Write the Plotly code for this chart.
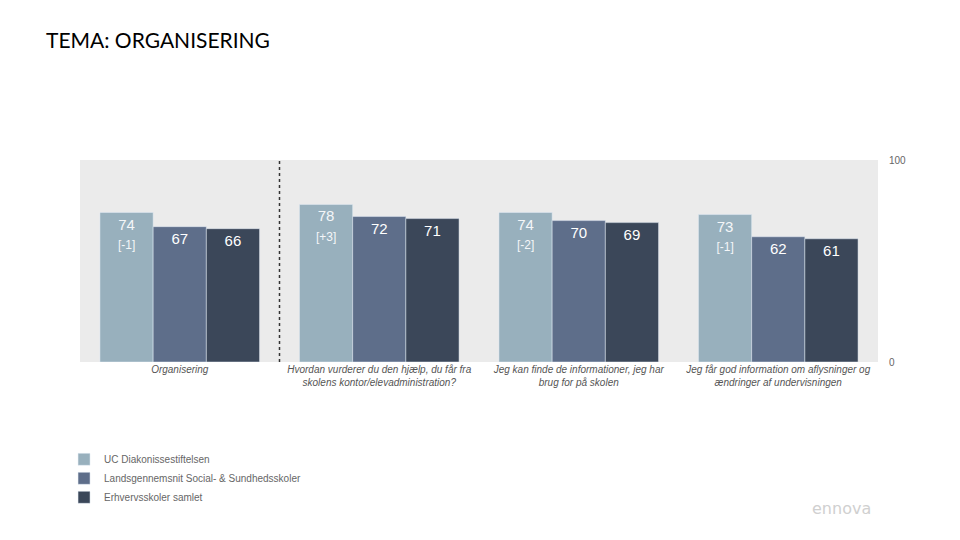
import plotly.graph_objects as go

categories = [
    "<i>Organisering</i>",
    "<i>Hvordan vurderer du den hjælp, du får fra<br>skolens kontor/elevadministration?</i>",
    "<i>Jeg kan finde de informationer, jeg har<br>brug for på skolen</i>",
    "<i>Jeg får god information om aflysninger og<br>ændringer af undervisningen</i>",
]
uc_values = [74, 78, 74, 73]
uc_change = ["[-1]", "[+3]", "[-2]", "[-1]"]
lands_values = [67, 72, 70, 62]
erhverv_values = [66, 71, 69, 61]

series_names = [
    "UC Diakonissestiftelsen",
    "Landsgennemsnit Social- & Sundhedsskoler",
    "Erhvervsskoler samlet",
]
colors = ["#98B0BD", "#5E6E8A", "#3B4759"]

uc_text = [f"{v}<br><span style='font-size:12px'>{c}</span>" for v, c in zip(uc_values, uc_change)]

fig = go.Figure()
fig.add_trace(go.Bar(x=categories, y=uc_values, name=series_names[0], marker_color=colors[0],
                     text=uc_text, textposition="inside", insidetextanchor="end",
                     textfont=dict(color="#F4F6F8", size=15), textangle=0))
fig.add_trace(go.Bar(x=categories, y=lands_values, name=series_names[1], marker_color=colors[1],
                     text=[str(v) for v in lands_values], textposition="inside", insidetextanchor="end",
                     textfont=dict(color="white", size=15), textangle=0))
fig.add_trace(go.Bar(x=categories, y=erhverv_values, name=series_names[2], marker_color=colors[2],
                     text=[str(v) for v in erhverv_values], textposition="inside", insidetextanchor="end",
                     textfont=dict(color="white", size=15), textangle=0))

fig.add_shape(type="line", xref="x", yref="paper", x0=0.5, x1=0.5, y0=0, y1=1,
              line=dict(color="#333333", width=1.5, dash="dot"))

fig.add_annotation(text="TEMA: ORGANISERING", xref="paper", yref="paper", x=-0.045, y=1.595,
                   xanchor="left", yanchor="middle", showarrow=False,
                   font=dict(family="Lato", size=21, color="black"))
fig.add_annotation(text="ennova", xref="paper", yref="paper", x=0.915, y=-0.725,
                   xanchor="left", yanchor="middle", showarrow=False,
                   font=dict(family="DejaVu Sans", size=16, color="#D0D0D0"))

fig.update_layout(
    width=960, height=540,
    margin=dict(l=72, r=90, t=152, b=186, autoexpand=False),
    paper_bgcolor="white", plot_bgcolor="#EBEBEB",
    barmode="group", bargap=0.2, bargroupgap=0,
    font=dict(family="Liberation Sans", size=10, color="#666666"),
    uniformtext=dict(minsize=8, mode="show"),
    legend=dict(x=-0.02, y=-0.41, xanchor="left", yanchor="top", orientation="v",
                font=dict(size=10, color="#666666"), itemwidth=30),
    xaxis=dict(showgrid=False, tickfont=dict(family="Liberation Sans", size=10, color="#555555"),
               ticks="", tickangle=0, range=[-0.5, 3.5], automargin=False),
    yaxis=dict(side="right", range=[0, 100], tickvals=[0, 100], showgrid=False,
               zeroline=False, ticks="outside", ticklen=8, tickcolor="rgba(0,0,0,0)",
               tickfont=dict(size=10, color="#666666"), automargin=False),
    showlegend=True,
)

fig.write_html("out.html")
